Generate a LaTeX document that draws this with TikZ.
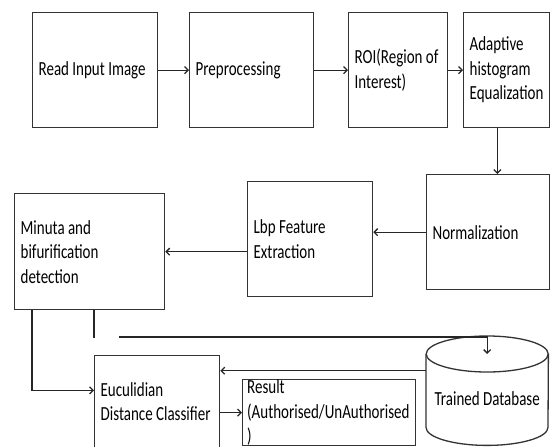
\documentclass[tikz,border=0pt]{standalone}
\usepackage{fontspec}
\setmainfont[FakeStretch=0.75]{Carlito}
\usetikzlibrary{arrows.meta}
\newcommand\stagefont{\fontsize{20}{24.5}\selectfont\hyphenpenalty 10000\relax}

\begin{document}
\begin{tikzpicture}[x=1pt, y=-1pt,
    stagebox/.style={draw=black!80, line width=1.3pt, rectangle, anchor=north west,
        inner xsep=6pt, inner ysep=0pt, align=flush left, font=\stagefont},
    boxtext/.style={inner sep=0pt, align=flush left, font=\stagefont},
    link/.style={black!85, line width=1.3pt},
    arrowlink/.style={link, -{Straight Barb[length=3.5pt, width=7pt]}},
    dbline/.style={draw=black!80, line width=1.3pt},
]

\def\bh{115}   % box height, rows 1 and 2
\def\ry{18}    % cylinder cap radius

\useasboundingbox (0,0) rectangle (550,447);

% ── Top row ─────────────────────────────────────────────────
\node[stagebox, minimum width=125pt, text width=113pt, minimum height=\bh pt]
    (read) at (32,12) {Read~Input~Image};
\node[stagebox, minimum width=124pt, text width=112pt, minimum height=\bh pt]
    (prep) at (189,12) {Preprocessing};
\node[stagebox, minimum width=99pt, text width=87pt, minimum height=\bh pt]
    (roi) at (348,12) {ROI(Region~of\\Interest)};
\node[stagebox, minimum width=85.5pt, text width=73.5pt, minimum height=\bh pt]
    (ahe) at (463,12) {Adaptive\\histogram\\Equalization};

% ── Middle row ──────────────────────────────────────────────
\node[stagebox, minimum width=122.5pt, text width=110.5pt, minimum height=\bh pt]
    (norm) at (426,174) {Normalization};
\node[stagebox, minimum width=125pt, text width=113pt, minimum height=\bh pt]
    (lbp) at (247,181) {Lbp~Feature\\Extraction};
\node[stagebox, minimum width=150pt, text width=138pt, minimum height=116pt]
    (minuta) at (14,193) {Minuta~and\\bifurification\\detection};

% ── Bottom row ──────────────────────────────────────────────
\node[stagebox, minimum width=125pt, text width=113pt, minimum height=91.5pt]
    (euc) at (94,355) {Euculidian\\Distance~Classifier};
\node[stagebox, minimum width=173pt, minimum height=66pt] (res) at (242,379) {};
\node[boxtext, anchor=west] (restxt) at ([xshift=5pt]res.west)
    {Result\\(Authorised/UnAuthorised\\)};

% Trained database (cylinder)
\node[inner sep=0pt, minimum width=122pt, minimum height=109pt, anchor=north west]
    (db) at (426,336) {};
\draw[dbline] ([yshift=-\ry pt]db.north west) -- ([yshift=\ry pt]db.south west)
    arc[start angle=180, end angle=360, x radius=61pt, y radius=\ry pt]
    -- ([yshift=-\ry pt]db.north east);
\draw[dbline] ([yshift=-\ry pt]db.north) ellipse[x radius=61pt, y radius=\ry pt];
\coordinate (dbtop) at ([yshift=-\ry pt]db.north);
\node[boxtext] (dbtxt) at ([yshift=-7.5pt]db.center) {Trained~Database};

% ── Connectors ──────────────────────────────────────────────
\draw[arrowlink] (read) -- (prep);
\draw[arrowlink] (prep) -- (roi);
\draw[arrowlink] (roi) -- (ahe);
\draw[arrowlink] ([xshift=-9pt]ahe.south) -- ([xshift=-9pt]ahe.south |- norm.north);
\draw[arrowlink] (norm.west) -- (norm.west -| lbp.east);
\draw[arrowlink] (lbp.west |- minuta.east) -- (minuta.east);

% minutiae output down to classifier
\draw[arrowlink] ([xshift=18pt]minuta.south west) |- ([yshift=11pt]euc.west);
\draw[link] ([xshift=80pt]minuta.south west) -- ++(0,28);

% feed into database
\coordinate (gap) at (119,337);
\draw[arrowlink] (gap) -| (dbtop);

% database back to classifier, classifier to result
\draw[arrowlink] ([yshift=20pt]db.west) -- ([yshift=20pt]db.west -| euc.east);
\draw[arrowlink] (euc.east |- res.west) -- (res.west);

\end{tikzpicture}
\end{document}
